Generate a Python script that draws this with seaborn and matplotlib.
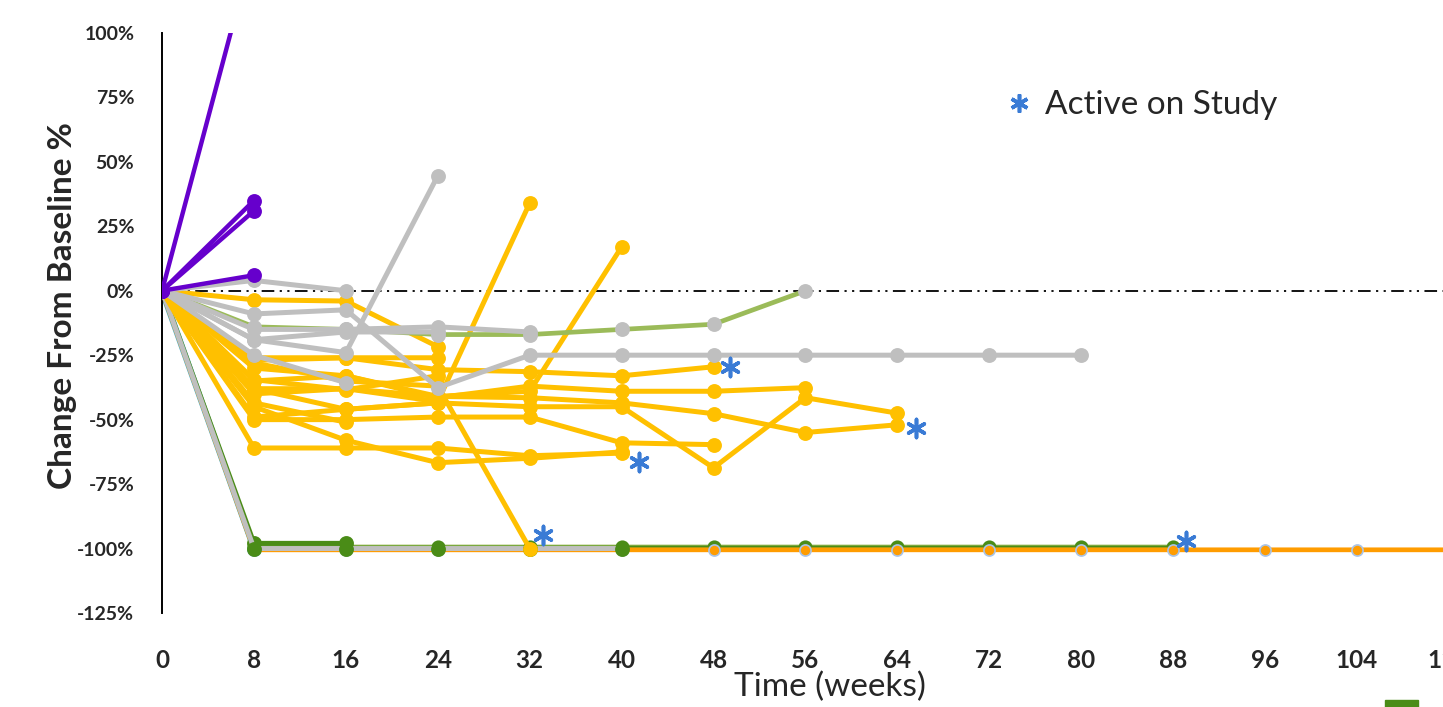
import matplotlib
matplotlib.use('Agg')
import matplotlib.pyplot as plt
import matplotlib.ticker as mticker
from matplotlib.lines import Line2D
from matplotlib.patches import Rectangle
import seaborn as sns

# ── Style ──────────────────────────────────────────────────────────────────────
sns.set_theme(style='white')
plt.rcParams['font.family'] = ['Lato', 'DejaVu Sans']
plt.rcParams['axes.unicode_minus'] = False

YELLOW = '#FFC000'
GRAY = '#BFBFBF'
PURPLE = '#6600CC'
LIGHT_GREEN = '#9BBB59'
DARK_GREEN = '#4A8C17'
ORANGE = '#FF9C00'
TEAL = '#4BACC6'
STAR_BLUE = '#3A7BD5'

# ── Data (visit weeks, % change from baseline) ─────────────────────────────────
weeks = [0, 8, 16, 24, 32, 40, 48, 56, 64, 72, 80, 88, 96, 104, 112]

purple_pts = [
    [0, 134],
    [0, 35],
    [0, 31],
    [0, 6],
]

yellow_pts = [
    [0, -27, -26, -30.6, -31.4, -33, -29.5],
    [0, -35, -33, -41.5, -37, -39, -39, -37.6],
    [0, -38, -46, -43.5, -45, -45, -68.7, -41.5, -47.5],
    [0, -30, -33, -41, -41.5, -43.5, -47.7, -55, -52],
    [0, -50, -50, -49, -49, -59, -59.7],
    [0, -61, -61, -61, -64, -63],
    [0, -45, -58, -66.7, -65, -62.5],
    [0, -28, -35, -37, -100],
    [0, -38, -38, -43, 34],
    [0, -40, -38, -41, -39, 17],
    [0, -3.5, -4, -21.7],
    [0, -26, -26, -26],
    [0, -49, -46, -43.5],
    [0, -43.5, -51],
    [0, -34.5, -38.4, -33],
]

gray_pts = [
    [0, -9, -7.4, -37.6, -25, -25, -25, -25, -25, -25, -25],
    [0, 4, 0],
    [0, -15, -15, -14, -16],
    [0, -19, -24, 44.6],
    [0, -25, -35.7],
    [0, -19, -16, -16],
]

light_green_pts = [0, -14, -15, -17, -17, -15, -13, 0]

# complete responders (-100%)
orange_cr = [0, -100.5, -100.5, -100.5, -100.5, -100.5, -100.5, -100.5,
             -100.5, -100.5, -100.5, -100.5, -100.5, -100.5, -100.5]
green_cr = [0, -99.3, -99.3, -99.3, -99.3, -99.3, -99.3, -99.3,
            -99.3, -99.3, -99.3, -99.3]
green_pr = [0, -98, -98]
gray_cr = [0, -100, -100, -100, -100, -100]
teal_cr = [0, -100]

# active-on-study flags
star_weeks = [49.4, 41.5, 65.6, 33.2, 89.1]
star_vals = [-29.5, -66.3, -53.1, -94.6, -97]


def draw(ax, vals, color, lw=3.6, ms=9.5, mfc=None, mec=None, z=2):
    sns.lineplot(x=weeks[:len(vals)], y=vals, ax=ax, color=color, lw=lw,
                 marker='o', markersize=ms,
                 markerfacecolor=mfc or color, markeredgecolor=mec or mfc or color,
                 markeredgewidth=1.2, estimator=None, sort=False, zorder=z)


# ── Figure ─────────────────────────────────────────────────────────────────────
fig = plt.figure(figsize=(14.43, 7.07), dpi=100)
ax = fig.add_axes([0.1123, 0.1330, 0.926, 0.8204])

ax.axhline(0, color='black', lw=1.3, ls=(0, (7, 3, 1.2, 3, 1.2, 3)), zorder=1)

draw(ax, teal_cr, TEAL, lw=4.5, z=2)
draw(ax, orange_cr, ORANGE, lw=3.4, ms=8, mec='#A9C4E8', z=3)
sns.lineplot(x=weeks[:len(green_cr)], y=green_cr, ax=ax, color=LIGHT_GREEN,
             lw=3.0, estimator=None, zorder=2.5)
draw(ax, green_cr, DARK_GREEN, lw=1.6, ms=9, z=2.6)
draw(ax, green_pr, DARK_GREEN, lw=3.6, ms=9.5, z=3.5)
draw(ax, gray_cr, GRAY, lw=3.6, ms=9.5, mfc=DARK_GREEN, z=4)

for vals in yellow_pts:
    draw(ax, vals, YELLOW, z=5)
draw(ax, light_green_pts, LIGHT_GREEN, lw=3.4, mfc=GRAY, z=5.5)
for vals in gray_pts:
    draw(ax, vals, GRAY, z=6)
for vals in purple_pts:
    draw(ax, vals, PURPLE, lw=3.2, z=7)

ax.scatter(star_weeks, star_vals, marker=(6, 2, 0), s=170, linewidths=2.6,
           color=STAR_BLUE, zorder=8, clip_on=False)

# ── Axes ───────────────────────────────────────────────────────────────────────
ax.set_xlim(0, 116.3)
ax.set_ylim(-125, 100)
ax.set_xticks(weeks)
ax.set_yticks(range(-125, 101, 25))
ax.yaxis.set_major_formatter(mticker.FuncFormatter(lambda v, _: f'{v:.0f}%'))
ax.tick_params(axis='x', length=0, pad=26, labelsize=17.5)
ax.tick_params(axis='y', length=0, pad=20, labelsize=14)
for lab in ax.get_xticklabels() + ax.get_yticklabels():
    lab.set_fontweight('bold')
for side in ['top', 'right', 'bottom']:
    ax.spines[side].set_visible(False)
ax.spines['left'].set_color('black')
ax.spines['left'].set_linewidth(1.4)
ax.grid(False)

ax.set_xlabel('Time (weeks)', fontsize=24, labelpad=0)
ax.set_ylabel('Change From Baseline %', fontsize=24, fontweight='bold')
ax.yaxis.set_label_coords(-0.064, 0.53)

star_handle = Line2D([], [], ls='none', marker=(6, 2, 0), markersize=13,
                     markeredgewidth=2.6, color=STAR_BLUE)
fig.legend([star_handle], ['Active on Study'], loc='center left',
           bbox_to_anchor=(0.676, 0.851), frameon=False, fontsize=24,
           handlelength=0.8, handletextpad=0.4)

# clipped legend swatch of a second key at the lower right
fig.patches.append(Rectangle((1385 / 1443, 0), 33 / 1443, 7 / 707,
                             transform=fig.transFigure, color=DARK_GREEN))

fig.savefig('out.png', dpi=100)
